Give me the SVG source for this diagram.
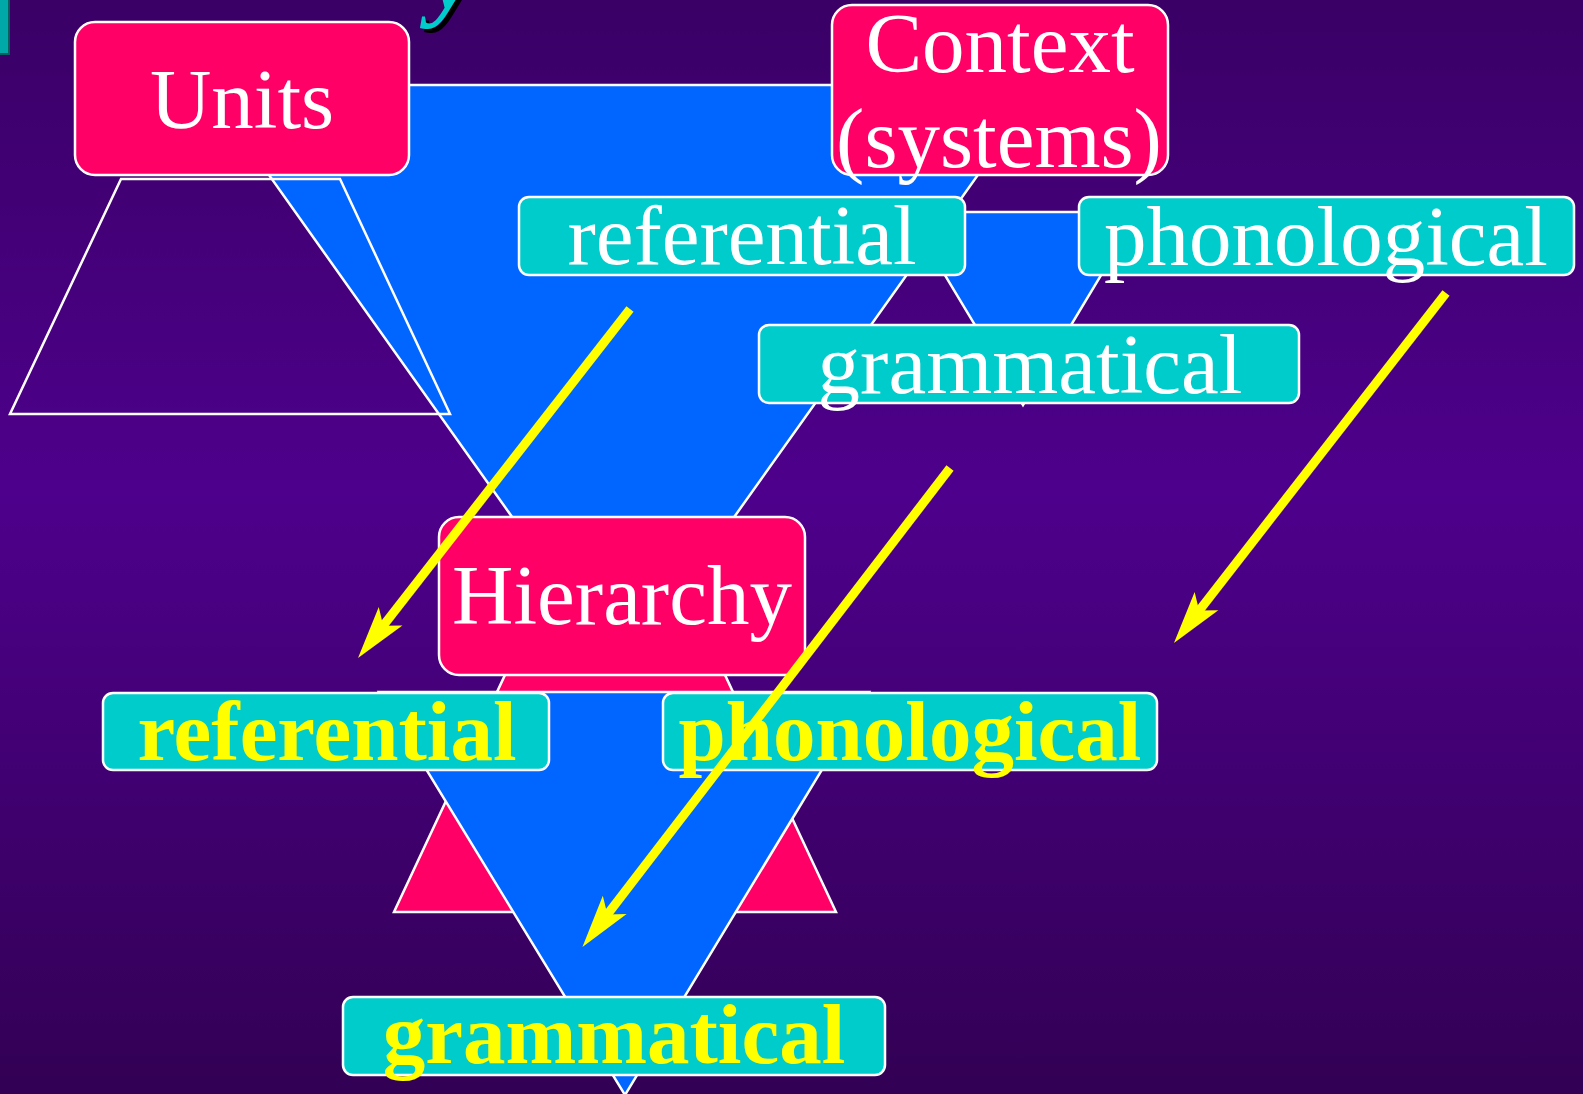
<svg xmlns="http://www.w3.org/2000/svg" width="1583" height="1094" viewBox="0 0 1583 1094">
<defs>
<linearGradient id="bg" x1="0" y1="0" x2="0" y2="1">
<stop offset="0" stop-color="#3a0066"/>
<stop offset="0.45" stop-color="#4e008c"/>
<stop offset="1" stop-color="#320054"/>
</linearGradient>
<marker id="head" markerUnits="userSpaceOnUse" viewBox="-15 -20 60 40" refX="0" refY="0" markerWidth="60" markerHeight="40" orient="auto">
<path d="M40,0 L-13,-15 L-1,0 L-13,15 Z" fill="#ffff00"/>
</marker>
<style>
.blue{fill:#0066ff;stroke:#ffffff;stroke-width:2.5}
.pinkTri{fill:#ff0066;stroke:#ffffff;stroke-width:2.5}
.outline{fill:none;stroke:#ffffff;stroke-width:2.5}
.pbox{fill:#ff0066;stroke:#ffffff;stroke-width:2.5}
.cbox{fill:#00cccc;stroke:#ffffff;stroke-width:2.5}
.t{font-family:"Liberation Serif","Times New Roman",serif;font-size:85px;text-anchor:middle;fill:#ffffff}
.b{font-weight:bold;fill:#ffff00}
.arrow{stroke:#ffff00;stroke-width:9;fill:none;marker-end:url(#head)}
.title{font-family:"Liberation Serif","Times New Roman",serif;font-size:100px;font-weight:bold;font-style:italic}
</style>
</defs>
<rect x="0" y="0" width="1583" height="1094" fill="url(#bg)"/>

<g id="title-fragments">
<rect x="-2" y="-2" width="11" height="56" fill="#00a8a8" stroke="#006060" stroke-width="2"/>
<text class="title" x="434" y="12" fill="#000000">y</text>
<text class="title" x="430" y="8" fill="#00cccc">y</text>
</g>

<g id="shapes">
<polygon id="pink-triangle" class="pinkTri" points="615,440 394,912 836,912"/>
<polygon id="big-blue-triangle" class="blue" points="205,85 1042,85 623,673"/>
<polygon id="units-trapezoid" class="outline" points="121,179 340,179 450,414 10,414"/>
<polygon id="context-triangle" class="blue" points="907,212 1139,212 1023,405"/>
<polygon id="hierarchy-triangle" class="blue" points="379,692 869,692 625,1095"/>
</g>

<g id="units">
<rect class="pbox" x="75" y="22" width="334" height="153" rx="20"/>
<text class="t" x="242" y="128">Units</text>
</g>

<g id="context">
<rect class="pbox" x="832" y="5" width="336" height="170" rx="20"/>
<text class="t" x="1000" y="72">Context</text>
<text class="t" x="999" y="167">(systems)</text>
</g>

<g id="referential-top">
<rect class="cbox" x="519" y="197" width="446" height="78" rx="10"/>
<text class="t" x="742" y="264">referential</text>
</g>

<g id="phonological-top">
<rect class="cbox" x="1079" y="197" width="495" height="78" rx="10"/>
<text class="t" x="1326" y="265">phonological</text>
</g>

<g id="grammatical-mid">
<rect class="cbox" x="759" y="325" width="540" height="78" rx="10"/>
<text class="t" x="1030" y="393">grammatical</text>
</g>

<g id="hierarchy">
<rect class="pbox" x="439" y="517" width="366" height="158" rx="20"/>
<text class="t" x="622" y="624">Hierarchy</text>
</g>

<g id="referential-bottom">
<rect class="cbox" x="103" y="693" width="446" height="77" rx="10"/>
<text class="t b" x="327" y="760">referential</text>
</g>

<g id="phonological-bottom">
<rect class="cbox" x="663" y="693" width="494" height="77" rx="10"/>
<text class="t b" x="910" y="760">phonological</text>
</g>

<g id="grammatical-bottom">
<rect class="cbox" x="343" y="997" width="542" height="78" rx="10"/>
<text class="t b" x="614" y="1063">grammatical</text>
</g>

<g id="connectors">
<line class="arrow" x1="630" y1="309" x2="382.6" y2="626.5"/>
<line class="arrow" x1="950" y1="468" x2="606.8" y2="915.3"/>
<line class="arrow" x1="1446" y1="293" x2="1198.5" y2="611.4"/>
</g>
</svg>
